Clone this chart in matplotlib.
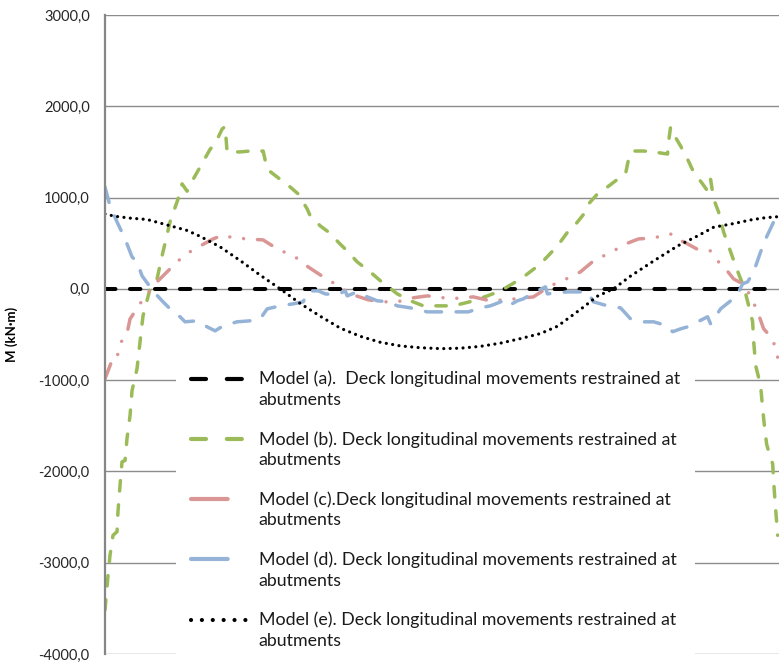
import numpy as np
import matplotlib
matplotlib.use("Agg")
import matplotlib.pyplot as plt
from matplotlib.lines import Line2D
from matplotlib.legend_handler import HandlerLine2D

plt.rcParams['font.family'] = ['Lato', 'DejaVu Sans']

# Position along the deck (% of total length) and bending moment M (kN·m)
x_a = [0.0, 25.0, 50.0, 75.0, 100.0]
m_a = [0.0, 0.0, 0.0, 0.0, 0.0]

x_b = [0.0, 0.45, 0.74, 1.19, 1.79, 1.93, 2.23, 2.53, 2.98, 3.27, 3.72, 4.02, 4.76, 5.21,
       5.65, 6.70, 7.74, 8.48, 9.67, 10.86, 11.46, 12.20, 12.95, 14.14, 15.63, 16.37,
       17.41, 17.86, 18.15, 20.09, 21.58, 23.51, 24.11, 25.60, 27.53, 28.72, 30.06,
       30.51, 32.00, 33.18, 34.97, 36.01, 37.50, 39.43, 40.92, 43.45, 45.39, 47.32,
       49.40, 51.79, 54.32, 56.85, 58.78, 60.57, 62.20, 64.73, 67.26, 68.90, 69.64,
       71.43, 71.88, 73.21, 74.70, 76.64, 77.38, 77.83, 78.42, 80.06, 81.55, 83.63,
       83.78, 84.08, 84.52, 85.57, 86.61, 87.50, 88.84, 89.58, 90.03, 90.48, 91.22,
       91.96, 93.01, 93.75, 94.49, 94.94, 95.54, 96.28, 96.43, 96.73, 97.47, 97.77,
       98.07, 98.36, 98.96, 99.26, 99.40, 99.70, 100.0]
m_b = [-3520, -3140, -2920, -2700, -2660, -2440, -2155, -1895, -1880, -1640, -1390, -1115,
       -875, -580, -295, 0, 110, 360, 735, 985, 1150, 1070, 1180, 1335, 1530, 1590,
       1750, 1780, 1500, 1500, 1510, 1510, 1310, 1225, 1116, 1040, 875,
       800, 690, 625, 490, 415, 295, 185, 90, -55, -130, -186,
       -186, -186, -140, -77, -22, 55, 130, 273, 470, 635, 678,
       842, 930, 1040, 1116, 1225, 1258, 1420, 1510, 1510, 1500, 1477,
       1608, 1772, 1696, 1565, 1420, 1280, 1150, 1072, 1200, 985, 842,
       624, 405, 252, 109, 33, -140, -360, -570, -840, -1060, -1310,
       -1530, -1700, -1860, -1915, -2110, -2410, -2700]

x_c = [0.0, 1.19, 1.79, 2.23, 3.27, 3.72, 5.51, 7.44, 9.23, 10.86, 12.35, 14.14, 16.07,
       17.56, 19.05, 21.28, 23.51, 25.60, 28.27, 30.21, 32.00, 33.93, 36.46, 39.14,
       41.22, 43.45, 45.83, 47.92, 49.40, 51.34, 54.76, 57.29, 60.27, 63.69, 66.22,
       68.90, 70.68, 72.62, 75.60, 77.38, 79.32, 81.55, 84.08, 84.52, 86.61, 88.24,
       90.03, 91.22, 92.26, 93.45, 94.79, 95.98, 97.02, 97.92, 99.26, 100.0]
m_c = [-985, -755, -755, -600, -490, -330, -130, 55, 186, 306, 394, 470, 547,
       590, 558, 547, 536, 438, 350, 240, 153, 66, -55, -120,
       -142, -142, -98, -77, -88, -109, -88, -131, -115, -88, 33,
       120, 186, 306, 416, 492, 547, 558, 602, 569, 492, 427,
       416, 295, 219, 109, 55, -77, -252, -438, -547, -750]

x_d = [0.0, 0.74, 1.79, 2.98, 3.27, 4.02, 4.76, 5.51, 7.14, 8.48, 9.97, 11.16, 11.90,
       13.69, 15.18, 16.37, 17.56, 19.64, 21.58, 23.07, 24.11, 26.04, 27.98, 29.46,
       30.21, 31.70, 32.74, 34.52, 35.71, 36.01, 37.50, 38.99, 40.48, 42.11, 43.45,
       45.39, 47.92, 51.34, 54.02, 55.80, 57.29, 59.23, 59.97, 61.31, 62.20, 63.99,
       65.48, 65.77, 66.96, 68.90, 71.73, 72.62, 74.70, 76.64, 78.13, 80.06, 81.55,
       83.63, 84.38, 85.57, 86.61, 88.10, 89.58, 90.03, 91.52, 93.01, 94.05, 94.79,
       95.54, 96.43, 97.47, 98.21, 99.40, 100.0]
m_d = [1116, 908, 733, 547, 492, 350, 295, 142, -22, -131, -241, -306, -361,
       -350, -416, -460, -405, -361, -350, -328, -219, -186, -164, -142,
       -22, -22, -55, -66, -22, -77, -33, -88, -131, -142, -186,
       -208, -252, -252, -252, -208, -186, -131, -186, -131, -109, -33,
       22, -55, -44, -33, -33, -142, -186, -208, -328, -361, -361,
       -405, -470, -438, -416, -361, -306, -383, -219, -131, -55, 55,
       77, 186, 405, 547, 733, 842]

x_e = [0.0, 1.49, 3.72, 6.25, 9.23, 12.20, 14.14, 17.11, 20.09, 23.07, 26.04, 29.02,
       32.00, 34.97, 37.95, 40.92, 43.90, 46.88, 50.00, 52.83, 55.80, 58.78, 61.76,
       64.73, 67.26, 70.68, 73.21, 75.60, 78.13, 81.55, 85.12, 88.10, 90.48, 93.45,
       95.98, 98.21, 100.0]
m_e = [820, 795, 775, 760, 700, 640, 575, 460, 310, 150, 0, -160,
       -300, -430, -520, -585, -625, -645, -655, -650, -630, -595, -545,
       -490, -410, -225, -80, 0, 140, 305, 470, 580, 675, 715,
       755, 780, 790]

y_ticks = [-4000, -3000, -2000, -1000, 0, 1000, 2000, 3000]
y_tick_labels = ["-4000,0", "-3000,0", "-2000,0", "-1000,0", "0,0", "1000,0", "2000,0", "3000,0"]

labels = [
    "Model (a).  Deck longitudinal movements restrained at\nabutments",
    "Model (b). Deck longitudinal movements restrained at\nabutments",
    "Model (c).Deck longitudinal movements restrained at\nabutments",
    "Model (d). Deck longitudinal movements restrained at\nabutments",
    "Model (e). Deck longitudinal movements restrained at\nabutments",
]

GREEN = "#9BBB59"
RED = "#D99694"
BLUE = "#95B3D7"
GRID = "#8C8C8C"

fig = plt.figure(figsize=(7.79, 6.62), dpi=100)
ax = fig.add_axes([105 / 779, 1 - 654 / 662, 1 - 105 / 779, (654 - 15) / 662])

common = dict(dash_capstyle="round", solid_capstyle="round")
ax.plot(x_a, m_a, color="black", lw=2.9, dashes=(2.6, 3.6), **common)
ax.plot(x_b, m_b, color=GREEN, lw=2.5, dashes=(3.0, 4.0), **common)
ax.plot(x_c, m_c, color=RED, lw=2.5, dashes=(4.6, 4.0, 0.01, 4.0, 0.01, 4.0), **common)
ax.plot(x_d, m_d, color=BLUE, lw=2.5, dashes=(4.6, 4.2), **common)
ax.plot(x_e, m_e, color="black", lw=2.3, dashes=(0.01, 2.0), **common)

ax.set_xlim(0, 100.2)
ax.set_ylim(-4000, 3000)
ax.set_yticks(y_ticks)
ax.set_yticklabels(y_tick_labels)
ax.set_xticks([])
ax.tick_params(axis="y", length=0, pad=11, labelsize=10.5, labelcolor="#262626")
ax.grid(axis="y", color=GRID, lw=1.0)
ax.set_axisbelow(True)
for side in ("top", "right", "bottom"):
    ax.spines[side].set_visible(False)
ax.spines["left"].set_color("#868686")
ax.spines["left"].set_linewidth(1.6)

ax.set_ylabel("M (kN·m)", fontsize=9.5, fontweight="bold")
ax.yaxis.set_label_coords(-87 / 674, 0.5)


class FirstLineHandler(HandlerLine2D):
    """Line handle raised to sit beside the first line of a two-line label."""

    def __init__(self, shift, **kw):
        super().__init__(**kw)
        self.shift = shift

    def create_artists(self, legend, orig_handle, xdescent, ydescent, width, height,
                       fontsize, trans):
        arts = super().create_artists(legend, orig_handle, xdescent, ydescent, width,
                                      height, fontsize, trans)
        for a in arts:
            a.set_ydata(np.asarray(a.get_ydata()) + self.shift)
        return arts


lw_leg = 3.0
handles = [
    Line2D([], [], color="black", lw=lw_leg, dashes=(3.6, 5.0), **common),
    Line2D([], [], color=GREEN, lw=lw_leg, dashes=(3.6, 5.0), **common),
    Line2D([], [], color=RED, lw=lw_leg, dashes=(8.8, 20), **common),
    Line2D([], [], color=BLUE, lw=lw_leg, dashes=(8.8, 20), **common),
    Line2D([], [], color="black", lw=lw_leg, dashes=(0.01, 2.6), **common),
]
fs_leg = 12.8
shift_pt = 7.9
leg = ax.legend(handles, labels, loc="upper left",
                bbox_to_anchor=(176 / 779, 1 - 356 / 662), bbox_transform=fig.transFigure,
                borderaxespad=0, frameon=True, facecolor="white", edgecolor="none",
                framealpha=1, fancybox=False, fontsize=fs_leg, handlelength=3.15,
                handletextpad=0.67, labelspacing=1.3, borderpad=0.84,
                handler_map={h: FirstLineHandler(shift_pt) for h in handles})
for t in leg.get_texts():
    t.set_linespacing(1.35)
    t.set_color("#1a1a1a")

fig.savefig("out.png", dpi=100)
